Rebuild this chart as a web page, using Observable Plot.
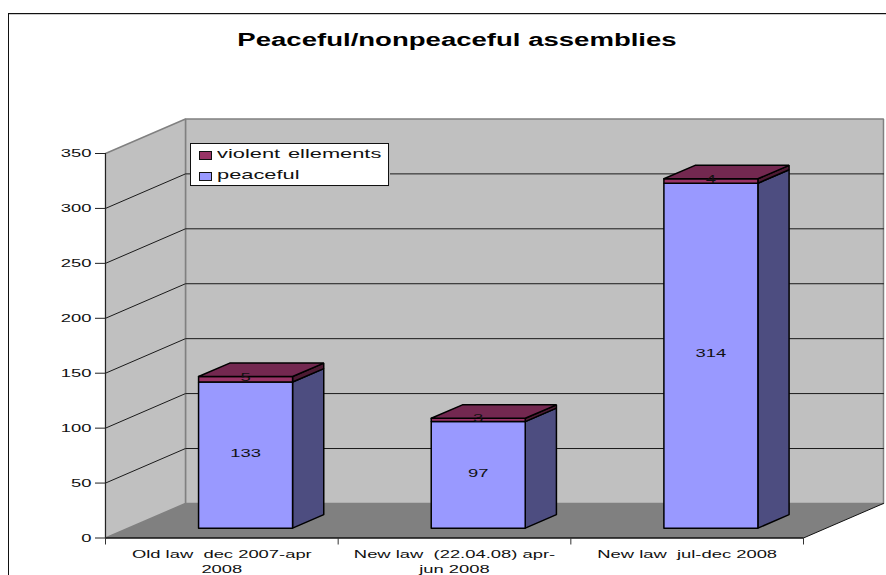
<!DOCTYPE html>
<html>
<head>
<meta charset="utf-8">
<script src="https://cdn.jsdelivr.net/npm/d3@7"></script>
<script src="https://cdn.jsdelivr.net/npm/@observablehq/plot@0.6"></script>
<style>
  html, body { margin: 0; padding: 0; background: #fff; overflow: hidden; }
  #chart { position: relative; width: 886px; height: 575px; overflow: hidden; font-family: "Liberation Sans", Arial, sans-serif; }
  #chart svg { position: absolute; left: 0; top: 0; display: block; background: transparent; }
  #frame { position: absolute; left: 8px; top: 13px; width: 900px; height: 600px; border-top: 1.5px solid #111; border-left: 1.5px solid #111; box-shadow: inset 0 1px 0 #ccc; }
  #title { position: absolute; left: 0; top: 29.5px; width: 914px; text-align: center; font-weight: bold; font-size: 18px; line-height: 20px; color: #000; white-space: nowrap; transform: scaleX(1.53); transform-origin: 457px 0; }
  #legend { position: absolute; left: 190px; top: 143px; width: 197px; height: 41px; background: #fff; border: 1px solid #111; box-shadow: 1px 1px 0 #bbb; box-sizing: content-box; }
  .entry { position: absolute; left: 26px; font-size: 13px; line-height: 15px; white-space: nowrap; color: #111; word-spacing: 1px; transform: scaleX(1.68); transform-origin: 0 0; }
  .swatch { position: absolute; left: 8px; width: 11px; height: 7px; border: 1px solid #111; }
</style>
</head>
<body>
<div id="chart">
  <div id="frame"></div>
  <div id="title"></div>
  <div id="plot"></div>
  <div id="legend"></div>
</div>
<script>
// Assemblies per period, split into peaceful ones and ones with violent elements.
const categories = ["Old law  dec 2007-apr\n2008", "New law  (22.04.08) apr-\njun 2008", "New law  jul-dec 2008"];
const peaceful = [133, 97, 314];
const violent = [5, 3, 4];
const valueTicks = [0, 50, 100, 150, 200, 250, 300, 350];
const seriesNames = ["violent ellements", "peaceful"];
const titleText = "Peaceful/nonpeaceful assemblies";

const colors = {
  wall: "#c0c0c0", floor: "#808080", edge: "#808080",
  peacefulFront: "#9999ff", peacefulSide: "#4d4d80",
  violentFront: "#993366", violentSide: "#4d1a33", violentTop: "#732850"
};

// Oblique projection: depth (0 front, 1 back) shifts a point right and up in scale units.
const depthX = 0.3438, depthY = 31.45;
const project = (cat, depth, value) => ({x: cat + depth * depthX, y: value + depth * depthY});

// Bars sit inside the category slot and inside the depth of the box.
const barLeft = 0.302, barWidth = 0.404, barNear = 0.285, barFar = 0.675;

// Closed outline through the given [category, depth, value] corners.
const polygon = (id, corners) => [...corners, corners[0]].map(([c, d, v]) => ({id, ...project(c, d, v)}));

const wallBack = polygon("back", [[0, 1, 0], [3, 1, 0], [3, 1, 350], [0, 1, 350]]);
const wallSide = polygon("side", [[0, 0, 0], [0, 1, 0], [0, 1, 350], [0, 0, 350]]);
const floor = polygon("floor", [[0, 0, 0], [3, 0, 0], [3, 1, 0], [0, 1, 0]]);

const gridLines = valueTicks.slice(1, -1).flatMap(v =>
  [[0, 0], [0, 1], [3, 1]].map(([c, d]) => ({id: v, ...project(c, d, v)})));
const floorEdge = [[3, 0], [3, 1]].map(([c, d]) => project(c, d, 0));

// Faces of one stacked box between two values.
function frontFace(i, lo, hi) {
  const a = i + barLeft, b = a + barWidth;
  return polygon(`f${i}-${lo}`, [[a, barNear, lo], [b, barNear, lo], [b, barNear, hi], [a, barNear, hi]]);
}
function sideFace(i, lo, hi) {
  const b = i + barLeft + barWidth;
  return polygon(`s${i}-${lo}`, [[b, barNear, lo], [b, barFar, lo], [b, barFar, hi], [b, barNear, hi]]);
}
function topFace(i, v) {
  const a = i + barLeft, b = a + barWidth;
  return polygon(`t${i}`, [[a, barNear, v], [b, barNear, v], [b, barFar, v], [a, barFar, v]]);
}

const idx = d3.range(categories.length);
const totals = idx.map(i => peaceful[i] + violent[i]);
const face = (fn, lo, hi) => idx.flatMap(i => fn(i, lo(i), hi(i)));
const zero = () => 0, peace = i => peaceful[i], total = i => totals[i];

const labelAt = (i, value, shown) => ({...project(i + barLeft + barWidth / 2, barNear, value), shown});
const valueLabels = idx.flatMap(i => [
  labelAt(i, peaceful[i] / 2, peaceful[i]),
  labelAt(i, peaceful[i] + violent[i] / 2, violent[i])
]);

const solid = (data, fill, stroke, strokeWidth) =>
  Plot.line(data, {x: "x", y: "y", z: "id", fill, stroke, strokeWidth, strokeLinejoin: "miter", curve: "linear"});

const chart = Plot.plot({
  width: 886,
  height: 575,
  marginLeft: 105,
  marginRight: 83,
  marginTop: 153,
  marginBottom: 37.5,
  style: {background: "transparent", fontFamily: "'Liberation Sans', Arial, sans-serif", fontSize: "11.5px", color: "#111"},
  x: {domain: [0, 3], axis: null},
  y: {domain: [0, 350], axis: null},
  marks: [
    solid(wallBack, colors.wall, colors.edge, 1.5),
    solid(wallSide, colors.wall, colors.edge, 1.5),
    solid(floor, colors.floor, "none", 0),
    Plot.line(gridLines, {x: "x", y: "y", z: "id", stroke: "#1a1a1a", strokeWidth: 1}),
    Plot.line(floorEdge, {x: "x", y: "y", stroke: "#111", strokeWidth: 1}),
    Plot.axisY({ticks: valueTicks, tickSize: 10, tickPadding: 4, label: null, stroke: "#222", fill: "#111"}),
    Plot.ruleX([0], {y1: 0, y2: 350, stroke: "#222", strokeWidth: 1}),
    Plot.ruleY([0], {x1: 0, x2: 3, stroke: "#111", strokeWidth: 1.5}),
    Plot.axisX({ticks: [0, 1, 2, 3], tickSize: 7, tickFormat: () => "", label: null, stroke: "#333"}),
    Plot.axisX({ticks: idx.map(i => i + 0.5), tickSize: 0, tickPadding: 9, tickFormat: t => categories[Math.floor(t)], label: null, lineHeight: 1.3, fill: "#111"}),
    solid(face(sideFace, zero, peace), colors.peacefulSide, "#000", 1.5),
    solid(face(frontFace, zero, peace), colors.peacefulFront, "#000", 1.5),
    solid(face(sideFace, peace, total), colors.violentSide, "#000", 1.5),
    solid(face(frontFace, peace, total), colors.violentFront, "#000", 1.5),
    solid(idx.flatMap(i => topFace(i, totals[i])), colors.violentTop, "#000", 1.5),
    Plot.text(valueLabels, {x: "x", y: "y", text: "shown", dy: -2, fill: "#111"})
  ]
});

// The whole chart uses wide lettering, so widen each label around its own anchor.
const widen = 1.6;
d3.select(chart).selectAll("text").each(function () {
  const t = this.getAttribute("transform") || "";
  this.setAttribute("transform", `${t} scale(${widen},1)`);
});

document.getElementById("plot").append(chart);
document.getElementById("title").textContent = titleText;

const legend = document.getElementById("legend");
const legendColors = [colors.violentFront, colors.peacefulFront];
seriesNames.forEach((name, i) => {
  const swatch = document.createElement("div");
  swatch.className = "swatch";
  swatch.style.top = (7 + i * 21) + "px";
  swatch.style.background = legendColors[i];
  const entry = document.createElement("div");
  entry.className = "entry";
  entry.style.top = (2 + i * 21) + "px";
  entry.textContent = name;
  legend.append(swatch, entry);
});
</script>
</body>
</html>
